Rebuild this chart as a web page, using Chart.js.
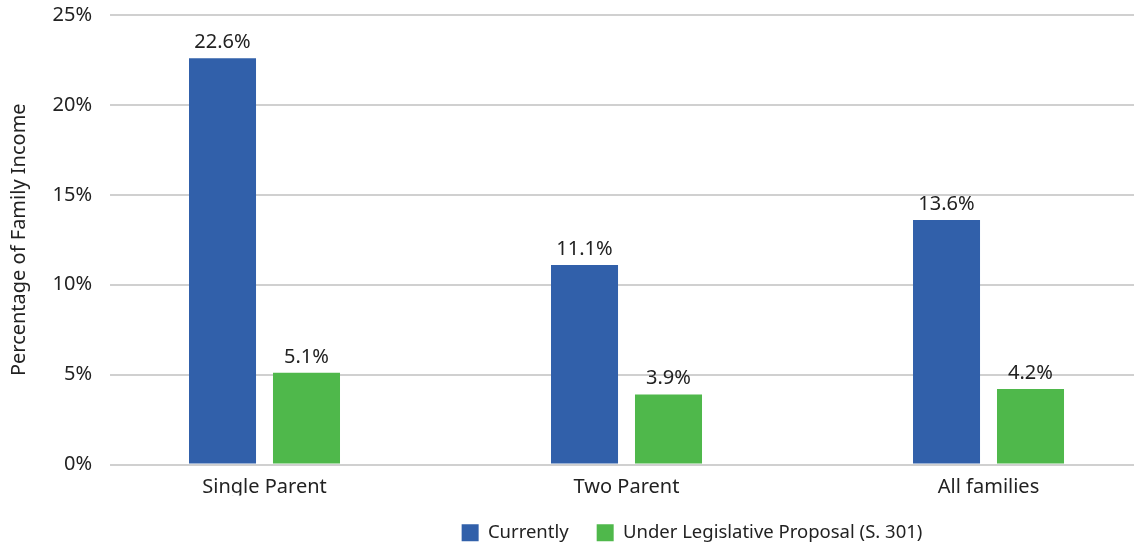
<!DOCTYPE html>
<html>
<head>
<meta charset="utf-8">
<script src="https://cdn.jsdelivr.net/npm/chart.js@4.4.1/dist/chart.umd.min.js"></script>
<style>
  html, body { margin: 0; padding: 0; background: #fff; overflow: hidden; }
  #frame { position: relative; width: 1134px; height: 548px; overflow: hidden; }
  #wrap { position: absolute; left: 0; top: 0; width: 1384px; height: 548px; }
</style>
</head>
<body>
<div id="frame"><div id="wrap"><canvas id="chart"></canvas></div></div>
<script>
// Share of family income spent on child care.
const categories = ['Single Parent', 'Two Parent', 'All families'];
const currently = [22.6, 11.1, 13.6];
const proposal = [5.1, 3.9, 4.2];
const yTicks = [0, 5, 10, 15, 20, 25];

const FONT = '"Noto Sans", "DejaVu Sans", sans-serif';
const TEXT = '#222222';

// value labels above each bar
const barLabels = {
  id: 'barLabels',
  afterDatasetsDraw(chart) {
    const ctx = chart.ctx;
    ctx.save();
    ctx.font = '20px ' + FONT;
    ctx.fillStyle = TEXT;
    ctx.textAlign = 'center';
    ctx.textBaseline = 'alphabetic';
    chart.data.datasets.forEach((ds, i) => {
      chart.getDatasetMeta(i).data.forEach((bar, j) => {
        ctx.fillText(ds.data[j].y.toFixed(1) + '%', bar.x, bar.y - 10);
      });
    });
    ctx.restore();
  }
};

const toPoints = (vals) => vals.map((v, i) => ({x: i, y: v}));

new Chart(document.getElementById('chart'), {
  type: 'bar',
  data: {
    datasets: [
      {
        label: 'Currently',
        data: toPoints(currently),
        backgroundColor: '#3160AA',
        categoryPercentage: 0.464,
        barPercentage: 0.798,
      },
      {
        label: 'Under Legislative Proposal (S. 301)',
        data: toPoints(proposal),
        backgroundColor: '#4FB84B',
        categoryPercentage: 0.464,
        barPercentage: 0.798,
      },
    ],
  },
  options: {
    responsive: true,
    maintainAspectRatio: false,
    animation: false,
    layout: {padding: {top: 15, bottom: -4, left: 0, right: 0}},
    plugins: {
      tooltip: {enabled: false},
      legend: {
        position: 'bottom',
        labels: {
          font: {size: 18.5, family: FONT},
          color: TEXT,
          boxWidth: 17,
          boxHeight: 17,
          padding: 28,
        },
      },
    },
    scales: {
      x: {
        type: 'linear',
        bounds: 'data',
        offset: false,
        min: -0.4268,
        max: 3.0925,
        afterBuildTicks: (s) => { s.ticks = categories.map((c, i) => ({value: i})); },
        grid: {display: false},
        border: {display: false},
        ticks: {
          autoSkip: false,
          maxRotation: 0,
          padding: 3,
          font: {size: 20, family: FONT},
          color: TEXT,
          callback: (v) => categories[v] || '',
        },
        afterFit: (s) => { s.height = 31; },
      },
      y: {
        min: 0,
        max: 25,
        afterBuildTicks: (s) => { s.ticks = yTicks.map(v => ({value: v})); },
        grid: {color: '#d0d0d0', lineWidth: 2, drawTicks: false},
        border: {display: false},
        ticks: {
          padding: 18,
          font: {size: 20, family: FONT},
          color: TEXT,
          callback: (v) => v + '%',
        },
        title: {
          display: true,
          text: 'Percentage of Family Income',
          font: {size: 20, family: FONT},
          color: TEXT,
          padding: {top: 7, bottom: 0},
        },
        afterFit: (s) => {
          s.width = 110;
          s.paddingTop = 0;
          s.paddingBottom = 0;
        },
      },
    },
  },
  plugins: [barLabels],
});
</script>
</body>
</html>
